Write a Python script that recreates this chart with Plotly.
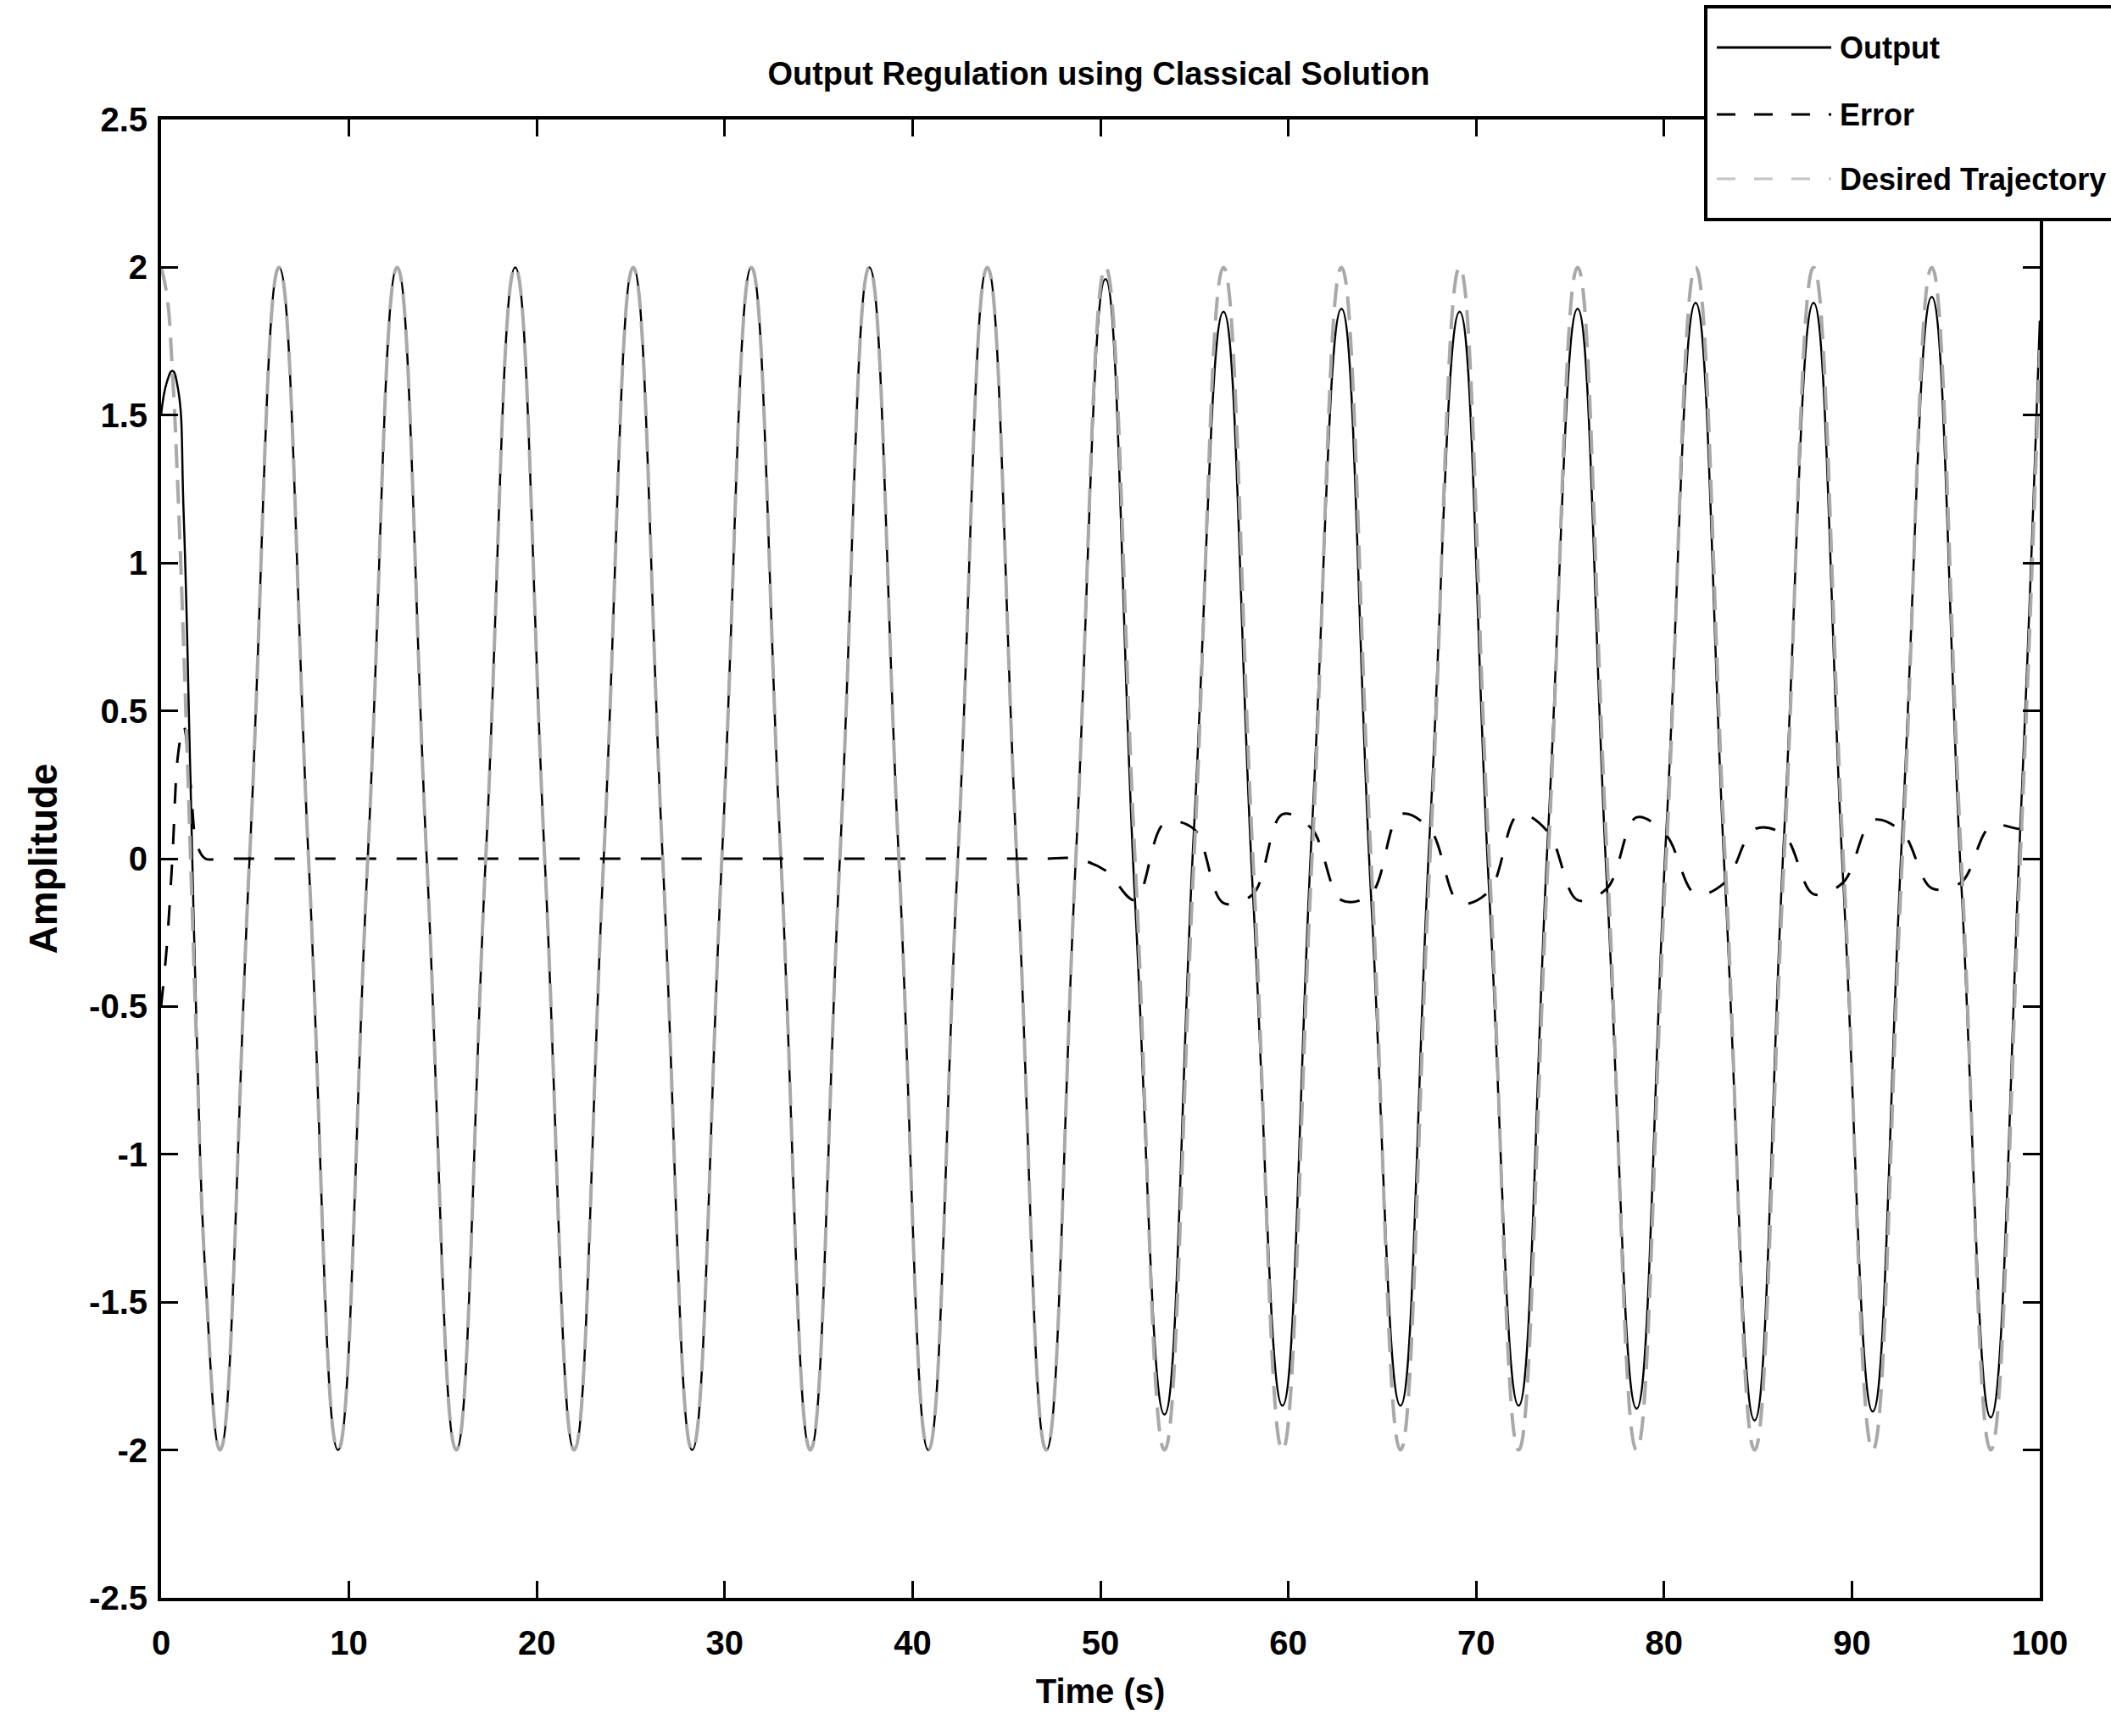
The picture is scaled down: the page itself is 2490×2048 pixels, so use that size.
import plotly.graph_objects as go

# ---------------- data ----------------
TIME = [0, 0.3, 0.6, 0.9, 1.2, 1.57, 1.9, 2.36, 3.14,
        4.71, 6.28, 7.85, 9.42,
        11.0, 12.57, 14.14, 15.71,
        17.28, 18.85, 20.42, 21.99,
        23.56, 25.13, 26.7, 28.27,
        29.85, 31.42, 32.99, 34.56,
        36.13, 37.7, 39.27, 40.84,
        42.41, 43.98, 45.55, 47.12,
        48.69, 50.27, 51.84, 53.41,
        54.98, 56.55, 58.12, 59.69,
        61.26, 62.83, 64.4, 65.97,
        67.54, 69.12, 70.69, 72.26,
        73.83, 75.4, 76.97, 78.54,
        80.11, 81.68, 83.25, 84.82,
        86.39, 87.96, 89.54, 91.11,
        92.68, 94.25, 95.82, 97.39,
        98.96, 100]

DESIRED = [2, 1.91, 1.65, 1.24, 0.72, 0, -0.65, -1.41, -2,
           0, 2, 0, -2,
           0, 2, 0, -2,
           0, 2, 0, -2,
           0, 2, 0, -2,
           0, 2, 0, -2,
           0, 2, 0, -2,
           0, 2, 0, -2,
           0, 2, 0, -2,
           0, 2, 0, -2,
           0, 2, 0, -2,
           0, 2, 0, -2,
           0, 2, 0, -2,
           0, 2, 0, -2,
           0, 2, 0, -2,
           0, 2, 0, -2,
           0, 1.72]

OUTPUT = [1.5, 1.61, 1.65, 1.59, 1.17, 0.25, -0.6, -1.41, -2.0,
          0, 2, 0, -2,
          0, 2, 0, -2,
          0, 2, 0, -2,
          0, 2, 0, -2,
          0, 2, 0, -2,
          0, 2, 0, -2,
          0, 2, 0, -2,
          0, 1.96, -0.14, -1.88,
          0.10, 1.85, -0.12, -1.85,
          0.10, 1.86, -0.12, -1.85,
          0.10, 1.85, -0.11, -1.85,
          0.09, 1.86, -0.10, -1.86,
          0.08, 1.88, -0.08, -1.90,
          0.08, 1.88, -0.08, -1.87,
          0.09, 1.90, -0.08, -1.89,
          0.10, 1.82]

ERROR = [-0.5, -0.3, 0.0, 0.35, 0.45, 0.25, 0.05, 0.0, 0.0,
         0, 0, 0, 0,
         0, 0, 0, 0,
         0, 0, 0, 0,
         0, 0, 0, 0,
         0, 0, 0, 0,
         0, 0, 0, 0,
         0, 0, 0, 0,
         0, -0.04, -0.14, 0.12,
         0.10, -0.15, -0.12, 0.15,
         0.10, -0.14, -0.12, 0.15,
         0.10, -0.15, -0.11, 0.15,
         0.09, -0.14, -0.10, 0.14,
         0.08, -0.12, -0.08, 0.10,
         0.08, -0.12, -0.08, 0.13,
         0.09, -0.10, -0.08, 0.11,
         0.10, 0.10]

X_TICKS = [0, 10, 20, 30, 40, 50, 60, 70, 80, 90, 100]
X_TICK_TEXT = ["0", "10", "20", "30", "40", "50", "60", "70", "80", "90", "100"]
Y_TICKS = [2.5, 2, 1.5, 1, 0.5, 0, -0.5, -1, -1.5, -2, -2.5]
Y_TICK_TEXT = ["2.5", "2", "1.5", "1", "0.5", "0", "-0.5", "-1", "-1.5", "-2", "-2.5"]

SERIES_NAMES = ["Output", "Error", "Desired Trajectory"]
TITLE = "Output Regulation using Classical Solution"
X_LABEL = "Time (s)"
Y_LABEL = "Amplitude"

# ---------------- styling ----------------
FONT = "Liberation Sans Narrow, Arial Narrow, Liberation Sans, Arial, sans-serif"
OUT_COLOR = "black"
ERR_COLOR = "black"
DES_COLOR = "#a9a9a9"
OUT_DASH = "solid"
ERR_DASH = "24px,24px"
DES_DASH = "28px,14px"

fig = go.Figure()
fig.add_trace(go.Scatter(x=TIME, y=OUTPUT, mode="lines", name=SERIES_NAMES[0],
                         line=dict(color=OUT_COLOR, width=2.5, dash=OUT_DASH,
                                   shape="spline", smoothing=1.3)))
fig.add_trace(go.Scatter(x=TIME, y=ERROR, mode="lines", name=SERIES_NAMES[1],
                         line=dict(color=ERR_COLOR, width=3, dash=ERR_DASH,
                                   shape="spline", smoothing=1.0)))
fig.add_trace(go.Scatter(x=TIME, y=DESIRED, mode="lines", name=SERIES_NAMES[2],
                         line=dict(color=DES_COLOR, width=4, dash=DES_DASH,
                                   shape="spline", smoothing=1.3)))

W, H = 2490, 2048
L, R, T, B = 190, 84, 141, 163
PW, PH = W - L - R, H - T - B

def px2paper_x(px):
    return (px - L) / PW

def px2paper_y(py):
    return (H - B - py) / PH

axis_common = dict(showline=True, linewidth=4, linecolor="black", mirror="ticks",
                   ticks="inside", ticklen=20, tickwidth=3, tickcolor="black",
                   showgrid=False, zeroline=False,
                   tickfont=dict(family=FONT, size=40, color="black", weight="bold"))

fig.update_xaxes(range=[0, 100], tickmode="array", tickvals=X_TICKS, ticktext=X_TICK_TEXT,
                 ticklabelstandoff=15,
                 title=dict(text=X_LABEL, standoff=23,
                            font=dict(family=FONT, size=40, color="black", weight="bold")),
                 **axis_common)
fig.update_yaxes(range=[-2.5, 2.5], tickmode="array", tickvals=Y_TICKS, ticktext=Y_TICK_TEXT,
                 ticklabelstandoff=4,
                 title=dict(text=Y_LABEL, standoff=24,
                            font=dict(family=FONT, size=46, color="black", weight="bold")),
                 **axis_common)

fig.update_layout(
    width=W, height=H,
    margin=dict(l=L, r=R, t=T, b=B, autoexpand=False),
    plot_bgcolor="white", paper_bgcolor="white",
    showlegend=False,
    title=dict(text=TITLE, x=px2paper_x(1296), xref="paper", xanchor="center",
               y=1 - 87 / H, yref="container", yanchor="middle",
               font=dict(family=FONT, size=38, color="black", weight="bold")),
)

# ---------------- hand-drawn legend (MATLAB style, long samples) ----------------
shapes = [dict(type="rect", xref="paper", yref="paper",
               x0=px2paper_x(2012), x1=px2paper_x(2520),
               y0=px2paper_y(259), y1=px2paper_y(8),
               line=dict(color="black", width=4), fillcolor="white", layer="above")]
legend_rows = [(56, OUT_COLOR, OUT_DASH, 3), (135, ERR_COLOR, "22px,22px", 3),
               (211, "#c4c4c4", "22px,22px", 3)]
annotations = []
for (py, col, dash, wd), name in zip(legend_rows, SERIES_NAMES):
    shapes.append(dict(type="line", xref="paper", yref="paper",
                       x0=px2paper_x(2025), x1=px2paper_x(2160),
                       y0=px2paper_y(py), y1=px2paper_y(py),
                       line=dict(color=col, width=wd, dash=dash), layer="above"))
    annotations.append(dict(text=name, xref="paper", yref="paper",
                            x=px2paper_x(2168), y=px2paper_y(py),
                            xanchor="left", yanchor="middle", showarrow=False,
                            font=dict(family=FONT, size=36, color="black", weight="bold")))
fig.update_layout(shapes=shapes, annotations=annotations)

fig.write_html("out.html")
